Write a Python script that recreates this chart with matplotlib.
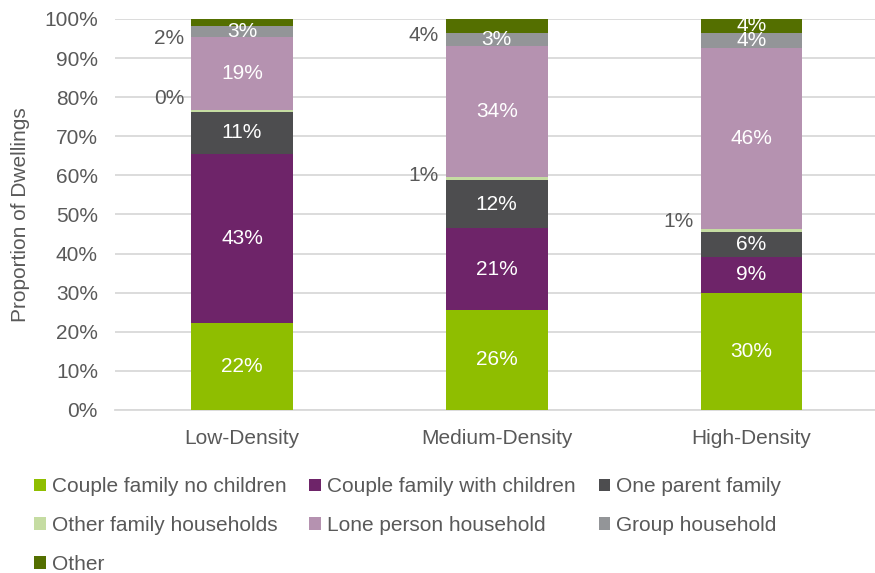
import matplotlib
matplotlib.use("Agg")
import matplotlib.pyplot as plt
from matplotlib.patches import Patch
from matplotlib.ticker import PercentFormatter

plt.rcParams["font.family"] = ["Liberation Sans", "DejaVu Sans"]

# data (percent of dwellings)
categories = ["Low-Density", "Medium-Density", "High-Density"]
series = [
    "Couple family no children",
    "Couple family with children",
    "One parent family",
    "Other family households",
    "Lone person household",
    "Group household",
    "Other",
]
couple_no_children = [22.3, 25.6, 29.9]
couple_with_children = [43.2, 20.9, 9.3]
one_parent = [10.7, 12.2, 6.4]
other_family = [0.4, 0.9, 0.7]
lone_person = [18.9, 33.6, 46.4]
group_household = [2.8, 3.1, 3.8]
other = [1.7, 3.7, 3.6]

values = [couple_no_children, couple_with_children, one_parent, other_family,
          lone_person, group_household, other]
colors = ["#8fbe00", "#6e2469", "#4d4d4f", "#c5dca2", "#b592b0", "#939598", "#546f00"]

# labels drawn beside the bar: (series index, category index) -> vertical pixel offset
outside = {
    (3, 0): 13, (6, 0): -16,
    (3, 1): 3, (6, 1): -9,
    (3, 2): 9,
}

TXT = "#595959"
FS = 15

fig = plt.figure(figsize=(8.75, 5.73), dpi=100)
ax = fig.add_axes([0.131, 0.2845, 0.869, 0.6824])

x = list(range(len(categories)))
bottom = [0.0] * len(categories)
for si, (vals, col) in enumerate(zip(values, colors)):
    ax.bar(x, vals, width=0.4, bottom=bottom, color=col, label=series[si], zorder=3)
    for ci, v in enumerate(vals):
        yc = bottom[ci] + v / 2
        txt = f"{v:.0f}%"
        if (si, ci) in outside:
            ax.annotate(txt, (ci - 0.2, yc), xytext=(-7, outside[(si, ci)]),
                        textcoords="offset pixels", ha="right", va="center",
                        fontsize=FS, color=TXT, zorder=5)
        else:
            ax.text(ci, yc, txt, ha="center", va="center", fontsize=FS,
                    color="white", zorder=5)
    bottom = [b + v for b, v in zip(bottom, vals)]

ax.set_ylim(0, 100)
ax.set_xlim(-0.5, 2.485)
ax.set_yticks(range(0, 101, 10))
ax.yaxis.set_major_formatter(PercentFormatter(decimals=0))
ax.set_xticks(x)
ax.set_xticklabels(categories)
ax.tick_params(axis="both", length=0, labelsize=FS, colors=TXT)
ax.tick_params(axis="x", pad=14)
ax.tick_params(axis="y", pad=12)
ax.grid(axis="y", color="#d9d9d9", linewidth=1.3, zorder=0)
for s in ["top", "right", "left"]:
    ax.spines[s].set_visible(False)
ax.spines["bottom"].set_color("#d9d9d9")
ax.spines["bottom"].set_linewidth(1.3)
ax.set_ylabel("Proportion of Dwellings", fontsize=FS, color=TXT, labelpad=10)

handles = [Patch(facecolor=c, edgecolor="none", label=s) for s, c in zip(series, colors)]
order = [0, 3, 6, 1, 4, 2, 5]
fig.legend([handles[i] for i in order], [series[i] for i in order],
           ncol=3, loc="upper left", bbox_to_anchor=(0.039, 0.167),
           frameon=False, fontsize=FS, labelcolor=TXT,
           handlelength=0.55, handleheight=0.55, handletextpad=0.3,
           columnspacing=1.1, labelspacing=0.95, borderaxespad=0, borderpad=0)

fig.savefig("out.png", dpi=100)
